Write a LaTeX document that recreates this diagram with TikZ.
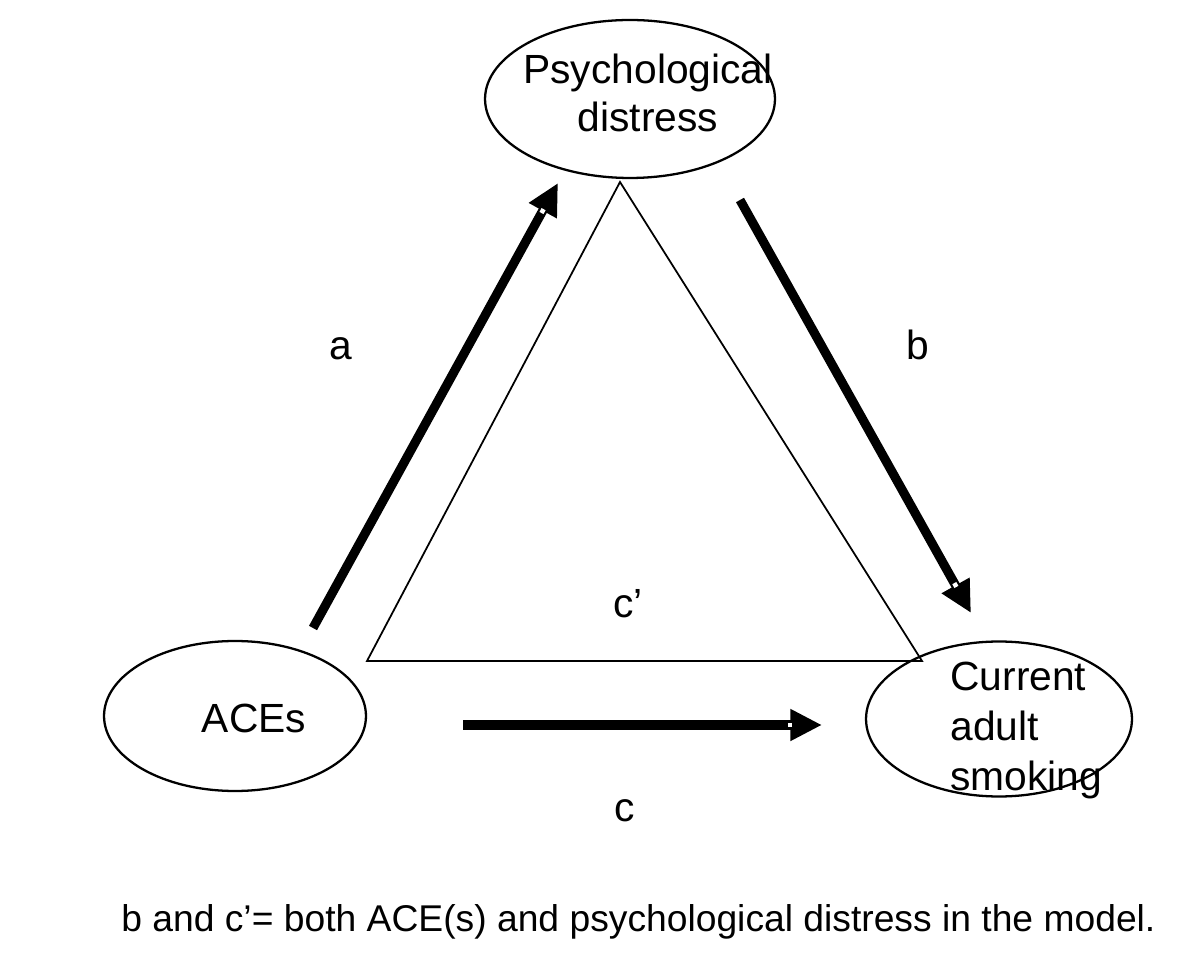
\documentclass[tikz,border=0pt]{standalone}
\usepackage{fontspec}
\setmainfont{Liberation Sans}
\usetikzlibrary{shapes.geometric,arrows.meta,calc}
\begin{document}
\begin{tikzpicture}[x=0.02cm,y=-0.02cm,
  every node/.style={font=\fontsize{23.2}{27.8}\selectfont},
  var/.style={draw,line width=1.3pt,ellipse,inner sep=0pt},
  arrowpath/.style={line width=5.2pt,-{Triangle[length=18pt,width=17pt]}},
  notch/.style={white,line width=2.6pt},
  thinline/.style={line width=1pt},
  lab/.style={inner sep=0pt,anchor=base}]
\useasboundingbox (0,0) rectangle (1200,955);
\node[var,minimum width=5.8cm,minimum height=3.16cm] (pd) at (630,99) {};
\node[lab] (pdt1) at (648,84) {Psychological};
\node[lab] (pdt2) at (648,132) {distress};
\node[var,minimum width=5.24cm,minimum height=3.0cm] (ace) at (235,716) {};
\node[lab] (acet) at (254,732) {ACEs};
\node[var,minimum width=5.32cm,minimum height=3.1cm] (cas) at (999,719) {};
\node[lab,anchor=base west] (cast1) at (950,690) {Current};
\node[lab,anchor=base west] (cast2) at (950,740) {adult};
\node[lab,anchor=base west] (cast3) at (950,790) {smoking};
\coordinate (tA) at (620,182);
\coordinate (tL) at (367,661);
\coordinate (tR) at (922,661);
\draw[thinline] (tL) -- (tA) -- (tR) -- cycle;
\coordinate (a0) at (313,628);
\coordinate (a1) at (558,183);
\coordinate (b0) at (740,200);
\coordinate (b1) at (971,613);
\coordinate (c0) at (463,725);
\coordinate (c1) at (822,725);
\draw[arrowpath] (a0) -- (a1);
\draw[arrowpath] (b0) -- (b1);
\draw[arrowpath] (c0) -- (c1);
\draw[notch] ($(a1)!17pt!(a0)$) -- ($(a1)!19.5pt!(a0)$);
\draw[notch] ($(b1)!17pt!(b0)$) -- ($(b1)!19.5pt!(b0)$);
\draw[notch] ($(c1)!17pt!(c0)$) -- ($(c1)!19.5pt!(c0)$);
\node[lab] (la) at (341,360) {a};
\node[lab] (lb) at (918,360) {b};
\node[lab] (lcp) at (628,618) {c’};
\node[lab] (lc) at (625,821) {c};
\node[lab,anchor=base west,font=\fontsize{21.2}{26}\selectfont] (cap) at (121,931) {b and c’= both ACE(s) and psychological distress in the model.};
\end{tikzpicture}
\end{document}
